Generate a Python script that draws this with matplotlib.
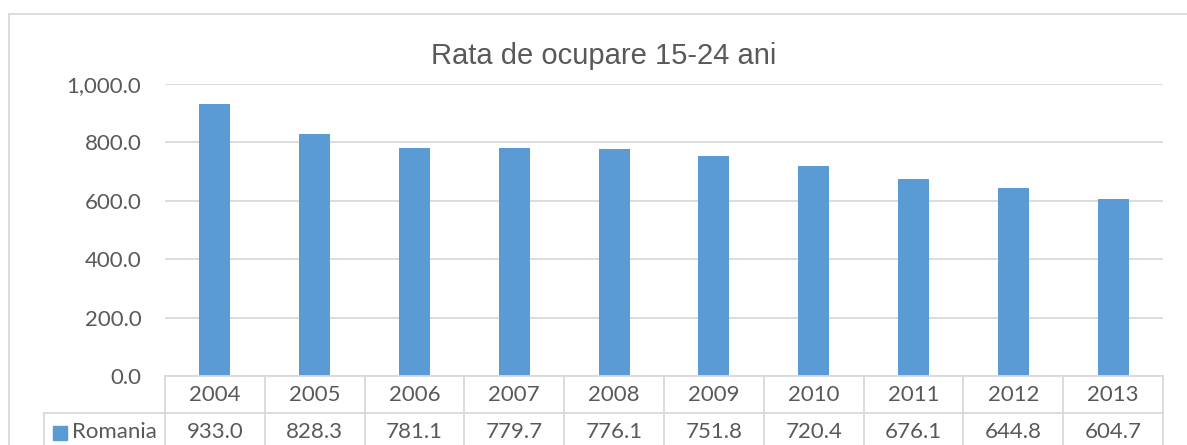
import matplotlib
matplotlib.use("Agg")
import matplotlib.pyplot as plt
from matplotlib.lines import Line2D
from matplotlib.ticker import FuncFormatter

years = ["2004", "2005", "2006", "2007", "2008", "2009", "2010", "2011", "2012", "2013"]
romania = [933.0, 828.3, 781.1, 779.7, 776.1, 751.8, 720.4, 676.1, 644.8, 604.7]
series_name = "Romania"
title = "Rata de ocupare 15-24 ani"

BAR = "#5B9BD5"
GRID = "#D9D9D9"
TXT = "#595959"
BODY_FONT = ["Lato", "DejaVu Sans"]
FS = 16

W, H = 1187, 445
fig = plt.figure(figsize=(W / 100, H / 100), dpi=100)
ax = fig.add_axes([165 / W, 1 - 376 / H, (1163 - 165) / W, (376 - 84) / H])

x = list(range(len(years)))
ax.bar(x, romania, width=0.31, color=BAR, zorder=2)

ax.set_xlim(-0.5, len(years) - 0.5)
ax.set_ylim(0, 1000)
ax.set_yticks([0, 200, 400, 600, 800, 1000])
ax.yaxis.set_major_formatter(FuncFormatter(lambda v, p: f"{v:,.1f}"))
ax.tick_params(axis="y", length=0, pad=17, labelsize=FS, labelcolor=TXT)
for lab in ax.get_yticklabels():
    lab.set_family(BODY_FONT)
ax.set_xticks([])
ax.grid(axis="y", color=GRID, linewidth=1.3, zorder=0)
for s in ax.spines.values():
    s.set_visible(False)

# data table under the plot (data units: 0.292 px per unit in y, ~99.8 px per unit in x)
px_y = 292 / 1000
row1 = -37 / px_y
bottom = -200 / px_y
left_col = -0.5 - (165 - 44) / 99.8
lk = dict(color=GRID, linewidth=1.3, clip_on=False, zorder=3)
ax.plot([-0.5, len(years) - 0.5], [0, 0], **lk)
ax.plot([left_col, len(years) - 0.5], [row1, row1], **lk)
for k in range(len(years) + 1):
    ax.plot([k - 0.5, k - 0.5], [0, bottom], **lk)
ax.plot([left_col, left_col], [row1, bottom], **lk)

y_year = -(395 - 376) / px_y
y_val = -(431.5 - 376) / px_y
for i, (yr, v) in enumerate(zip(years, romania)):
    ax.text(i, y_year, yr, ha="center", va="center", fontsize=FS, color=TXT, family=BODY_FONT)
    ax.text(i, y_val, f"{v:.1f}", ha="center", va="center", fontsize=FS, color=TXT, family=BODY_FONT)

key_x = -0.5 - (165 - 60) / 99.8
ax.plot([key_x], [-(433 - 376) / px_y], marker="s", markersize=10, color=BAR,
        linestyle="none", clip_on=False)
ax.text(-0.5 - (165 - 72) / 99.8, y_val, series_name, ha="left", va="center",
        fontsize=FS, color=TXT, family=BODY_FONT)

# title
fig.text(604 / W, 1 - 56 / H, title, ha="center", va="center", fontsize=21,
         color=TXT, family=["Liberation Sans", "DejaVu Sans"])

# chart frame
fig.add_artist(Line2D([9 / W, 1.0], [1 - 14 / H] * 2, color=GRID, linewidth=1.3))
fig.add_artist(Line2D([9 / W] * 2, [0, 1 - 14 / H], color=GRID, linewidth=1.3))

fig.savefig("out.png", dpi=100, facecolor="white")
